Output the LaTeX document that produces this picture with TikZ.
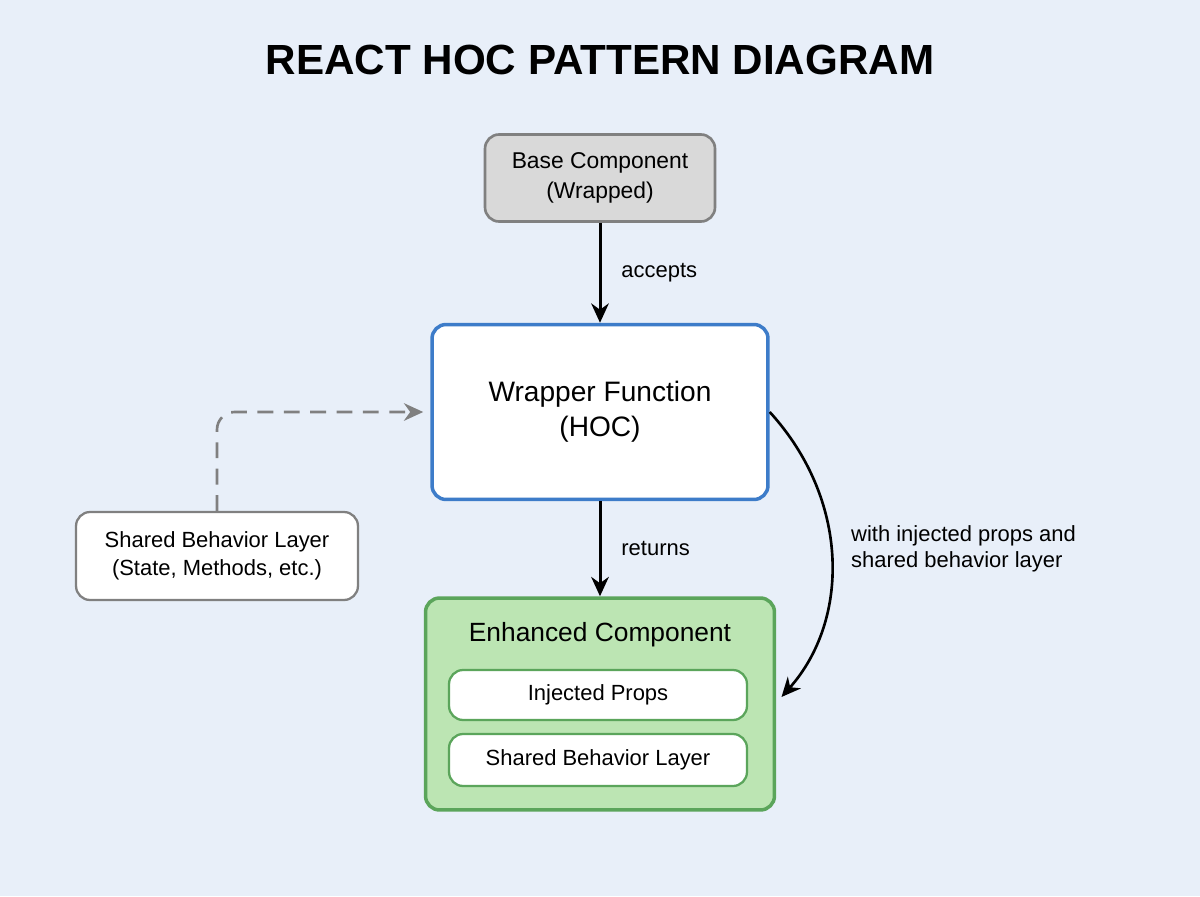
\documentclass[tikz,border=0pt]{standalone}
\usepackage{fontspec}
\setmainfont{Liberation Sans}
\usetikzlibrary{positioning,arrows.meta}
\definecolor{bgblue}{HTML}{E8EFF9}
\definecolor{basegray}{HTML}{D9D9D9}
\definecolor{edgegray}{HTML}{808080}
\definecolor{hocblue}{HTML}{3D7CC9}
\definecolor{enhgreen}{HTML}{BCE5B3}
\definecolor{edgegreen}{HTML}{5BA55B}
\tikzset{
  box/.style={draw, rounded corners=8pt, align=center, inner sep=0pt},
  flow/.style={-{Stealth[length=11pt,width=10pt]}, line width=1.7pt},
  lbl/.style={font=\fontsize{12.5}{15}\selectfont, align=left}
}
\begin{document}
\begin{tikzpicture}[x=0.02cm, y=-0.02cm]
			% Background and frame
			\fill[bgblue] (0,0) rectangle (1200,896);
			\node (title) at (600,60) {\fontsize{24}{28}\selectfont\bfseries REACT HOC PATTERN DIAGRAM};
			% Boxes
			\node (base) [box, fill=basegray, draw=edgegray, line width=1.5pt, minimum width=4.6cm, minimum height=1.74cm, font=\fontsize{13}{17}\selectfont] at (600,178) {Base Component\\(Wrapped)};
			\node (hoc) [box, fill=white, draw=hocblue, line width=2pt, minimum width=6.72cm, minimum height=3.5cm, font=\fontsize{16}{20}\selectfont] at (600,412) {Wrapper Function\\(HOC)};
			\node (layer) [box, fill=white, draw=edgegray, line width=1.3pt, minimum width=5.64cm, minimum height=1.76cm, font=\fontsize{12.5}{16}\selectfont] at (217,556) {Shared Behavior Layer\\(State, Methods, etc.)};
			\node (enh) [box, fill=enhgreen, draw=edgegreen, line width=2pt, minimum width=6.98cm, minimum height=4.24cm] at (600,704) {};
			\node (enhtitle) [font=\fontsize{15}{18}\selectfont] at (600,635) {Enhanced Component};
			\node (props) [box, fill=white, draw=edgegreen, line width=1.3pt, minimum width=5.96cm, minimum height=1cm, font=\fontsize{12.5}{15}\selectfont] at (598,695) {Injected Props};
			\node (shared) [box, fill=white, draw=edgegreen, line width=1.3pt, minimum width=5.96cm, minimum height=1.04cm, font=\fontsize{12.5}{15}\selectfont] at (598,760) {Shared Behavior Layer};
			% Connectors
			\draw[flow] (base.south) -- (hoc.north) node[lbl, midway, right=8pt] {accepts};
			\draw[flow] (hoc.south) -- (enh.north) node[lbl, midway, right=8pt] {returns};
			\draw[flow, edgegray, line width=1.5pt, dashed, dash pattern=on 9pt off 6pt, rounded corners=10pt] (layer.north) |- ([xshift=-4pt]hoc.west);
			\draw[flow, line width=1.5pt] (hoc.east) .. controls (850,500) and (850,620) .. ([xshift=3pt,yshift=4pt]enh.east);
			\node (with) [lbl, anchor=west] at (845,549) {with injected props and\\shared behavior layer};
\end{tikzpicture}
\end{document}
